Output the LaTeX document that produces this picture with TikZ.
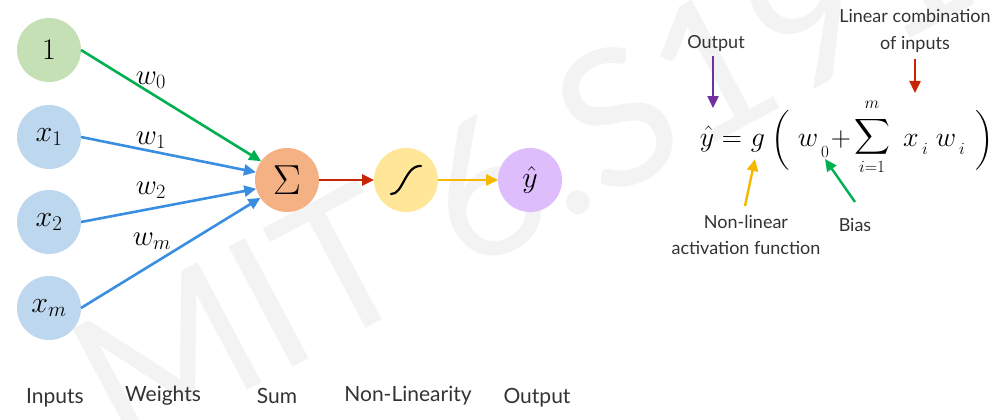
\RequirePackage{fix-cm}
\documentclass[tikz,border=0pt]{standalone}
\usepackage{amsmath}
\usepackage[no-math]{fontspec}
\setmainfont{Lato}
\usetikzlibrary{arrows.meta}
\definecolor{cgreen}{HTML}{C5E0B4}
\definecolor{cblue}{HTML}{BDD7EE}
\definecolor{corange}{HTML}{F4B183}
\definecolor{cyellow}{HTML}{FFE699}
\definecolor{cpurple}{HTML}{DDBDFB}
\definecolor{agreen}{HTML}{00B050}
\definecolor{ablue}{HTML}{3A8EE0}
\definecolor{ared}{HTML}{C82506}
\definecolor{ayellow}{HTML}{F5B800}
\definecolor{apurple}{HTML}{7030A0}
\definecolor{txt}{HTML}{333333}
\definecolor{wm}{HTML}{F3F3F3}
\tikzset{
  neuron/.style={circle, minimum size=64pt, inner sep=0pt, outer sep=0pt, draw=none},
  conn/.style={line width=2.6pt, -{Triangle[length=12pt,width=11pt]}},
  wlab/.style={font=\fontsize{29}{32}\selectfont},
  caption/.style={font=\fontsize{21}{24}\selectfont, text=txt, anchor=base},
  note/.style={font=\fontsize{18}{26.5}\selectfont, text=txt, align=center},
  eq/.style={font=\fontsize{28}{32}\selectfont, anchor=base, inner sep=0pt},
  eqs/.style={font=\fontsize{17}{19}\selectfont, anchor=base, inner sep=0pt},
}
\begin{document}
\begin{tikzpicture}[x=1pt,y=-1pt]
\useasboundingbox (0,0) rectangle (999,420);
% watermark
\node[text=wm, rotate=28, font=\fontsize{190}{190}\selectfont, inner sep=0pt] (wmark) at (522,168) {MIT 6.S191};
% neurons
\node[neuron, fill=cgreen] (one) at (49,50) {\fontsize{30}{34}\selectfont$1$};
\node[neuron, fill=cblue] (x1) at (49,137) {\fontsize{30}{34}\selectfont$x_1$};
\node[neuron, fill=cblue] (x2) at (49,222) {\fontsize{30}{34}\selectfont$x_2$};
\node[neuron, fill=cblue] (xm) at (49,308) {\fontsize{30}{34}\selectfont$x_m$};
\node[neuron, fill=corange] (sum) at (287,180) {\fontsize{42}{46}\selectfont$\Sigma$};
\node[neuron, fill=cyellow] (sig) at (406,180) {};
\node[neuron, fill=cpurple] (out) at (530,180) {\fontsize{30}{34}\selectfont$\hat{y}$};
\draw[line width=2.2pt, line cap=round] (391,194) .. controls (403,195) and (405,165) .. (421,166);
% connectors
\draw[conn, agreen] (one.east) -- (sum.144);
\draw[conn, ablue] (x1.east) -- (sum.166);
\draw[conn, ablue] (x2.east) -- (sum.196);
\draw[conn, ablue] (xm.east) -- (sum.214);
\draw[conn, ared] (sum.east) -- (sig.west);
\draw[conn, ayellow] (sig.east) -- (out.west);
% weights
\node[wlab] (w0) at (151,80) {$w_0$};
\node[wlab] (w1) at (151,140) {$w_1$};
\node[wlab] (w2) at (151,190) {$w_2$};
\node[wlab] (wmm) at (152,241) {$w_m$};
% captions
\node[caption] (c1) at (55,403) {Inputs};
\node[caption] (c2) at (163,401) {Weights};
\node[caption] (c3) at (277,403) {Sum};
\node[caption] (c4) at (408,401) {Non-Linearity};
\node[caption] (c5) at (537,403) {Output};
% equation
\node[eq] (ey) at (707,146) {$\hat{y}$};
\node[eq] (eeq) at (732,146) {$=$};
\node[eq] (eg) at (758,146) {$g$};
\node[eq, anchor=center] (elp) at (781,140) {$\Big($};
\node[eq] (ew) at (808,146) {$w$};
\node[eqs] (ew0) at (825,157) {$0$};
\node[eq] (eplus) at (841,146) {$+$};
\node[eq, anchor=center] (esum) at (872,137) {$\displaystyle\sum$};
\node[eqs] (em) at (872,108) {$m$};
\node[eqs] (ei1) at (872,172) {$i{=}1$};
\node[eq] (ex) at (911,146) {$x$};
\node[eqs] (exi) at (925,154) {$i$};
\node[eq] (ewi) at (946,146) {$w$};
\node[eqs] (ewii) at (962,154) {$i$};
\node[eq, anchor=center] (erp) at (985,140) {$\Big)$};
% annotations
\node[note] (nout) at (716,44) {Output};
\node[note] (nlin) at (915,31) {Linear combination\\of inputs};
\node[note] (nact) at (746,235) {Non-linear\\activation function};
\node[note] (nbias) at (855,225) {Bias};
\coordinate (pout) at (713,108);
\coordinate (plin) at (915,93);
\coordinate (pact) at (755,159);
\coordinate (pbias) at (825,159);
\draw[conn, apurple, line width=2.4pt] (713,56) -- (pout);
\draw[conn, ared, line width=2.4pt] (915,59) -- (plin);
\draw[conn, ayellow, line width=2.4pt] (745,206) -- (pact);
\draw[conn, agreen, line width=2.4pt] (855,202) -- (pbias);
\end{tikzpicture}
\end{document}
